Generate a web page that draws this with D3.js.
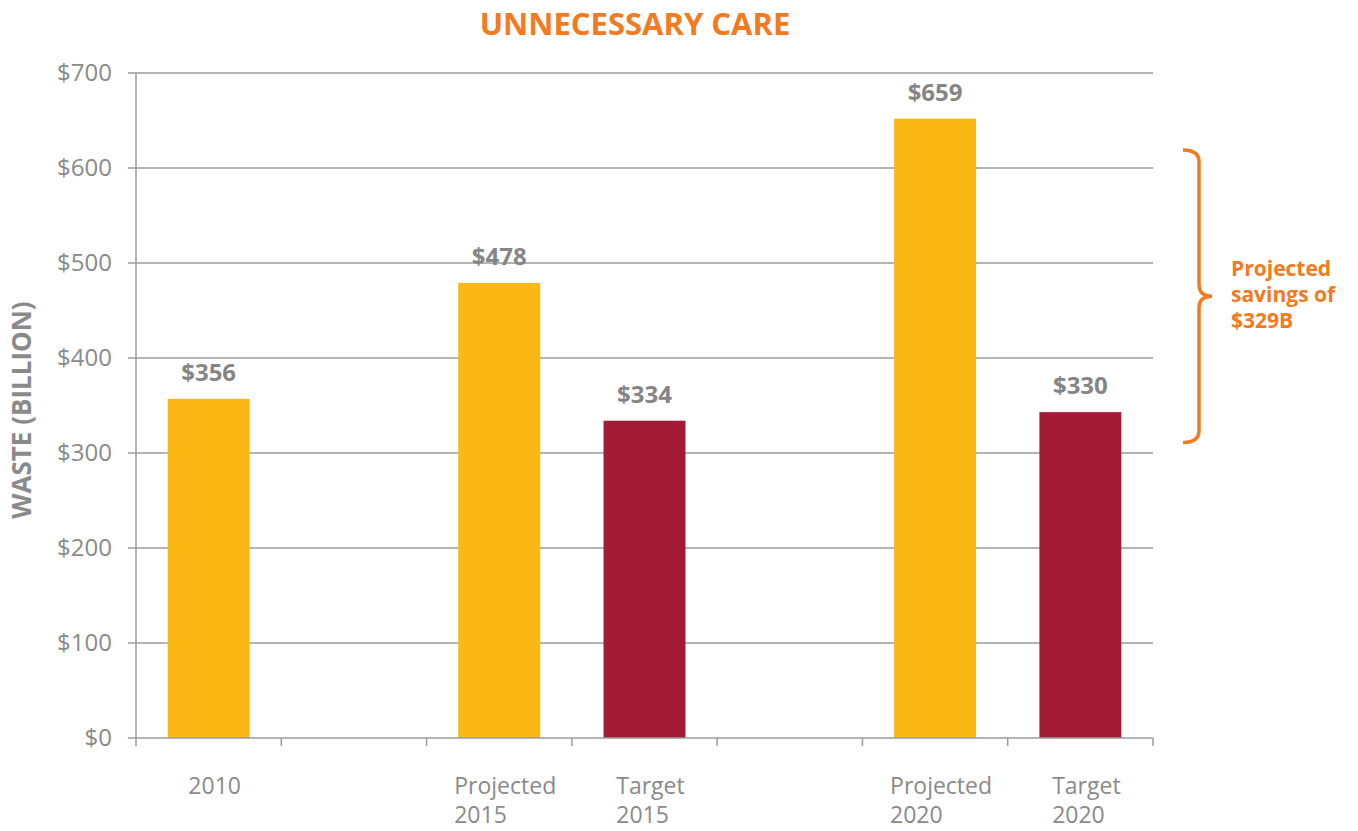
<!DOCTYPE html>
<html>
<head>
<meta charset="utf-8">
<script src="https://cdnjs.cloudflare.com/ajax/libs/d3/7.8.5/d3.min.js"></script>
<style>
  body { margin: 0; background: #fff; }
  text { font-family: "Open Sans", "Noto Sans", sans-serif; }
</style>
</head>
<body>
<div id="chart"></div>
<script>
// ---------- data ----------
var slots = ["2010", "gap1", "Projected 2015", "Target 2015", "gap2", "Projected 2020", "Target 2020"]
var categories = ["2010", "Projected 2015", "Target 2015", "Projected 2020", "Target 2020"]
var catLines = [["2010"], ["Projected", "2015"], ["Target", "2015"], ["Projected", "2020"], ["Target", "2020"]]
var values = [357, 479, 334, 652, 343]          // bar heights as drawn
var valueLabels = ["$356", "$478", "$334", "$659", "$330"]
var kinds = ["projected", "projected", "target", "projected", "target"]
var yTicks = [0, 100, 200, 300, 400, 500, 600, 700]
var braceRange = [311, 619]
var noteLines = ["Projected", "savings of", "$329B"]

// ---------- setup ----------
var W = 1358, H = 831
var x0 = 136, x1 = 1153, yTop = 73, yBot = 738
var grey = "#8a8a8a", axisGrey = "#9b9b9b", orange = "#f47a20"
var colors = { projected: "#fbb814", target: "#a31a35" }

var svg = d3.select("#chart").append("svg")
  .attr("width", W).attr("height", H)

var x = d3.scaleBand().domain(slots).range([x0, x1]).paddingInner(0.436).paddingOuter(0.218)
var y = d3.scaleLinear().domain([0, 700]).range([yBot, yTop])
var step = x.step()

// gridlines
svg.append("g").selectAll("line").data(yTicks.filter(function (d) { return d > 0 }))
  .enter().append("line")
  .attr("x1", x0 - 8).attr("x2", x1)
  .attr("y1", function (d) { return y(d) }).attr("y2", function (d) { return y(d) })
  .attr("stroke", axisGrey).attr("stroke-width", 1.5)

// y axis
var yAxis = svg.append("g")
yAxis.append("line").attr("x1", x0).attr("x2", x0).attr("y1", yTop).attr("y2", yBot)
  .attr("stroke", axisGrey).attr("stroke-width", 1.5)
yAxis.selectAll("text").data(yTicks).enter().append("text")
  .attr("x", x0 - 24).attr("y", function (d) { return y(d) })
  .attr("dy", "0.35em").attr("text-anchor", "end")
  .attr("font-size", 24).attr("fill", grey)
  .text(function (d) { return "$" + d })

// bars
var bars = svg.append("g")
bars.selectAll("rect").data(categories).enter().append("rect")
  .attr("x", function (d) { return x(d) })
  .attr("width", x.bandwidth())
  .attr("y", function (d, i) { return y(values[i]) })
  .attr("height", function (d, i) { return yBot - y(values[i]) })
  .attr("fill", function (d, i) { return colors[kinds[i]] })

// value labels
bars.selectAll("text").data(categories).enter().append("text")
  .attr("x", function (d) { return x(d) + x.bandwidth() / 2 })
  .attr("y", function (d, i) { return y(values[i]) - 18 })
  .attr("text-anchor", "middle").attr("font-size", 24).attr("font-weight", 700)
  .attr("fill", "#858585")
  .text(function (d, i) { return valueLabels[i] })

// x axis
var xAxis = svg.append("g")
xAxis.append("line").attr("x1", x0 - 8).attr("x2", x1).attr("y1", yBot).attr("y2", yBot)
  .attr("stroke", axisGrey).attr("stroke-width", 1.5)
xAxis.selectAll(".tick").data(d3.range(slots.length + 1)).enter().append("line")
  .attr("x1", function (i) { return x0 + i * step }).attr("x2", function (i) { return x0 + i * step })
  .attr("y1", yBot).attr("y2", yBot + 8)
  .attr("stroke", axisGrey).attr("stroke-width", 1.5)

categories.forEach(function (c, i) {
  var t = xAxis.append("text").attr("font-size", 23).attr("fill", grey)
  catLines[i].forEach(function (line, j) {
    t.append("tspan").attr("y", 794 + j * 29).text(line)
  })
  var w = d3.max(t.selectAll("tspan").nodes(), function (n) { return n.getComputedTextLength() })
  var cx = x(c) + x.bandwidth() / 2 + 6
  t.selectAll("tspan").attr("x", cx - w / 2)
})

// title
svg.append("text").attr("x", 635).attr("y", 35).attr("text-anchor", "middle")
  .attr("font-size", 31).attr("font-weight", 700).attr("fill", orange)
  .text("UNNECESSARY CARE")

// y axis title
svg.append("text").attr("transform", "translate(31,410) rotate(-90)")
  .attr("text-anchor", "middle").attr("font-size", 26).attr("font-weight", 700)
  .attr("fill", grey).text("WASTE (BILLION)")

// brace
var bt = y(braceRange[1]), bb = y(braceRange[0]), bm = (bt + bb) / 2
var bx = 1199, bl = 1183, bp = 1212, r = 12
var path = d3.path()
path.moveTo(bl, bt)
path.quadraticCurveTo(bx, bt, bx, bt + r)
path.lineTo(bx, bm - r)
path.quadraticCurveTo(bx, bm, bp, bm)
path.quadraticCurveTo(bx, bm, bx, bm + r)
path.lineTo(bx, bb - r)
path.quadraticCurveTo(bx, bb, bl, bb)
svg.append("path").attr("d", path.toString()).attr("fill", "none")
  .attr("stroke", orange).attr("stroke-width", 3.5)

var note = svg.append("text").attr("font-size", 21).attr("font-weight", 700).attr("fill", orange)
noteLines.forEach(function (l, j) {
  note.append("tspan").attr("x", 1231).attr("y", 276 + j * 26).text(l)
})
</script>
</body>
</html>
